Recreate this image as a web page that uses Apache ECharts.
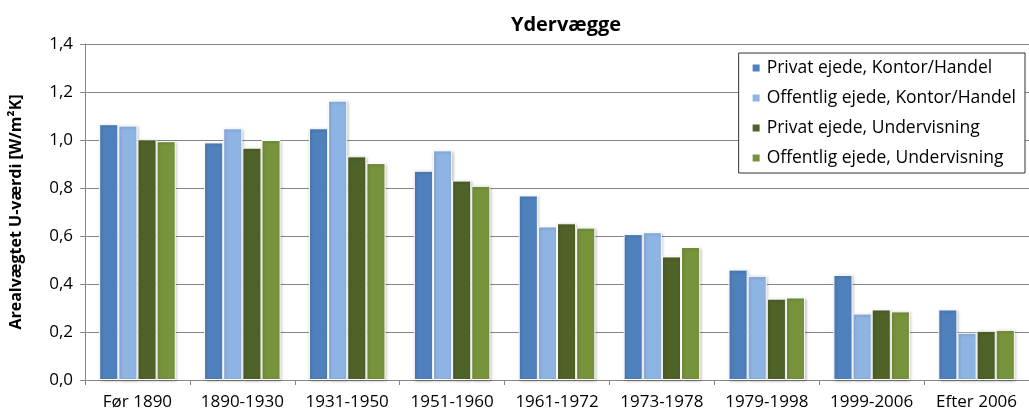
<!DOCTYPE html>
<html>
<head>
<meta charset="utf-8">
<script src="https://cdn.jsdelivr.net/npm/echarts@6/dist/echarts.min.js"></script>
<style>html,body{margin:0;padding:0;background:#fff}#c{width:1029px;height:414px}</style>
</head>
<body>
<div id="c"></div>
<script>
const categories = ['Før 1890','1890-1930','1931-1950','1951-1960','1961-1972','1973-1978','1979-1998','1999-2006','Efter 2006'];
const privatKontor = [1.066, 0.99, 1.049, 0.872, 0.769, 0.608, 0.46, 0.438, 0.294];
const offentligKontor = [1.06, 1.049, 1.164, 0.957, 0.64, 0.616, 0.434, 0.277, 0.197];
const privatUndervisning = [1.003, 0.968, 0.932, 0.831, 0.653, 0.515, 0.339, 0.294, 0.205];
const offentligUndervisning = [0.995, 1.0, 0.904, 0.809, 0.635, 0.554, 0.344, 0.286, 0.209];
const seriesNames = ['Privat ejede, Kontor/Handel','Offentlig ejede, Kontor/Handel','Privat ejede, Undervisning','Offentlig ejede, Undervisning'];
const colors = ['#4F81BD','#8EB4E3','#4F6228','#77933C'];
const seriesData = [privatKontor, offentligKontor, privatUndervisning, offentligUndervisning];

const FONT = '"Open Sans"';
const chart = echarts.init(document.getElementById('c'), null, {renderer:'canvas'});
chart.setOption({
  animation: false,
  color: colors,
  title: {
    text: 'Ydervægge', left: 561, top: 10, textAlign: 'center',
    textStyle: {fontFamily: FONT, fontSize: 20, fontWeight: 'bold', color: '#000'}
  },
  legend: {
    orient: 'vertical', right: 4, top: 53,
    backgroundColor: '#fff', borderColor: '#333', borderWidth: 1,
    padding: [6, 9, 6, 12], itemGap: 12,
    itemWidth: 9, itemHeight: 9, icon: 'rect',
    textStyle: {fontFamily: FONT, fontSize: 17.5, color: '#000', padding: [0,0,0,1]},
    data: seriesNames
  },
  grid: {left: 80, right: -9, top: 44, bottom: 34, containLabel: false},
  xAxis: {
    type: 'category', data: categories,
    axisLine: {lineStyle: {color: '#868686'}},
    axisTick: {show: true, length: 5, lineStyle: {color: '#868686'}},
    axisLabel: {fontFamily: FONT, fontSize: 17, color: '#000', margin: 14, interval: 0}
  },
  yAxis: {
    type: 'value', min: 0, max: 1.4, interval: 0.2,
    name: 'Arealvægtet U-værdi [W/m²K]', nameLocation: 'middle', nameGap: 61,
    nameTextStyle: {fontFamily: FONT, fontSize: 16, fontWeight: 'bold', color: '#000'},
    axisLine: {show: true, lineStyle: {color: '#868686'}},
    axisTick: {show: true, length: 5, inside: false, lineStyle: {color: '#868686'}},
    splitLine: {lineStyle: {color: '#868686'}},
    axisLabel: {fontFamily: FONT, fontSize: 17, color: '#000', margin: 12,
      formatter: v => v.toFixed(1).replace('.', ',')}
  },
  series: seriesData.map((d, i) => ({
    name: seriesNames[i], type: 'bar', data: d,
    barGap: '0%', barCategoryGap: '27%',
    itemStyle: {color: colors[i], borderColor: '#fff', borderWidth: 1,
      shadowColor: 'rgba(0,0,0,0.25)', shadowBlur: 3, shadowOffsetX: 1, shadowOffsetY: 1}
  }))
});
</script>
</body>
</html>
